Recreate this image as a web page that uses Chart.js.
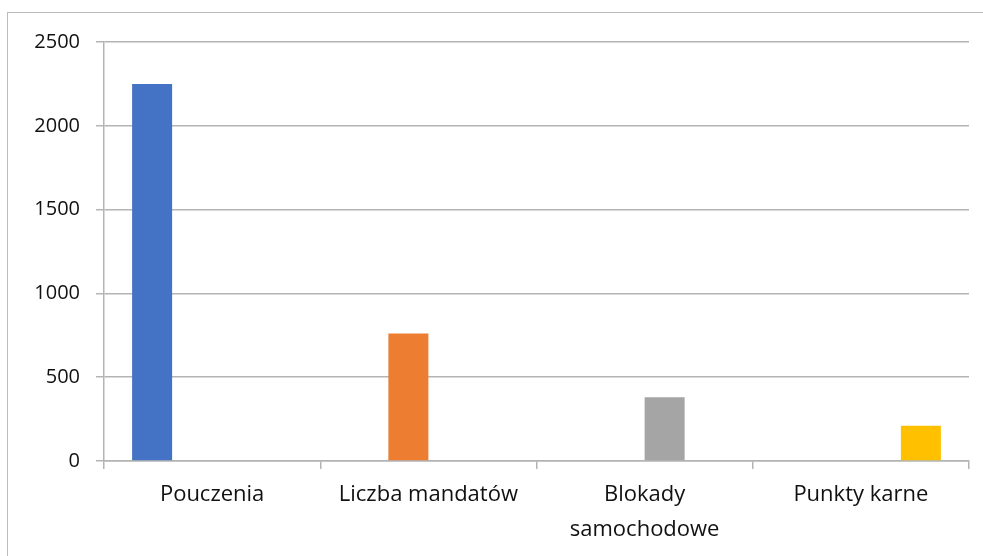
<!DOCTYPE html>
<html>
<head>
<meta charset="utf-8">
<script src="https://cdn.jsdelivr.net/npm/chart.js@4"></script>
<style>
  html, body { margin: 0; padding: 0; background: #fff; overflow: hidden; }
  #frame {
    position: absolute; left: 7px; top: 12px;
    width: 1100px; height: 700px;
    border: 1.5px solid #bcbcbc;
  }
  #wrap { position: absolute; left: 0; top: 0; width: 983px; height: 556px; }
</style>
</head>
<body>
<div id="frame"></div>
<div id="wrap"><canvas id="chart" width="983" height="556"></canvas></div>
<script>
// Kategorie i wartości
const categories = ['Pouczenia', 'Liczba mandatów', ['Blokady', 'samochodowe'], 'Punkty karne'];
const seriesNames = ['Pouczenia', 'Liczba mandatów', 'Blokady samochodowe', 'Punkty karne'];
const values = [2250, 760, 380, 210];
const colors = ['#4472C4', '#ED7D31', '#A5A5A5', '#FFC000'];
const yTicks = [0, 500, 1000, 1500, 2000, 2500];

// Każda seria ma wartość tylko w swojej kategorii
const datasets = seriesNames.map((name, i) => ({
    label: name,
    data: categories.map((c, j) => (j === i ? values[i] : null)),
    backgroundColor: colors[i],
    categoryPercentage: 0.74,
    barPercentage: 1.0
}));

const gridColor = '#b4b4b4';

new Chart(document.getElementById('chart'), {
    type: 'bar',
    data: { labels: categories, datasets: datasets },
    options: {
        responsive: false,
        animation: false,
        layout: { padding: { left: 0, right: 14, top: 42, bottom: 0 } },
        plugins: {
            legend: { display: false },
            tooltip: { enabled: false }
        },
        scales: {
            x: {
                offset: true,
                grid: {
                    offset: true,
                    drawOnChartArea: false,
                    drawTicks: true,
                    tickLength: 8,
                    color: gridColor,
                    lineWidth: 1.5
                },
                border: { color: gridColor, width: 1.5 },
                ticks: {
                    color: '#111',
                    font: { family: "'Open Sans', sans-serif", size: 22, lineHeight: 1.6 },
                    padding: 8,
                    maxRotation: 0,
                    autoSkip: false
                },
                afterFit: (scale) => { scale.height = 95; }
            },
            y: {
                min: yTicks[0],
                max: yTicks[yTicks.length - 1],
                afterBuildTicks: (scale) => { scale.ticks = yTicks.map(v => ({ value: v })); },
                grid: { color: gridColor, lineWidth: 1.5, tickLength: 8 },
                border: { color: gridColor, width: 1.5 },
                ticks: {
                    color: '#111',
                    font: { family: "'Open Sans', sans-serif", size: 20 },
                    padding: 16,
                    callback: (v) => String(v)
                },
                afterFit: (scale) => { scale.width = 104; }
            }
        }
    }
});
</script>
</body>
</html>
